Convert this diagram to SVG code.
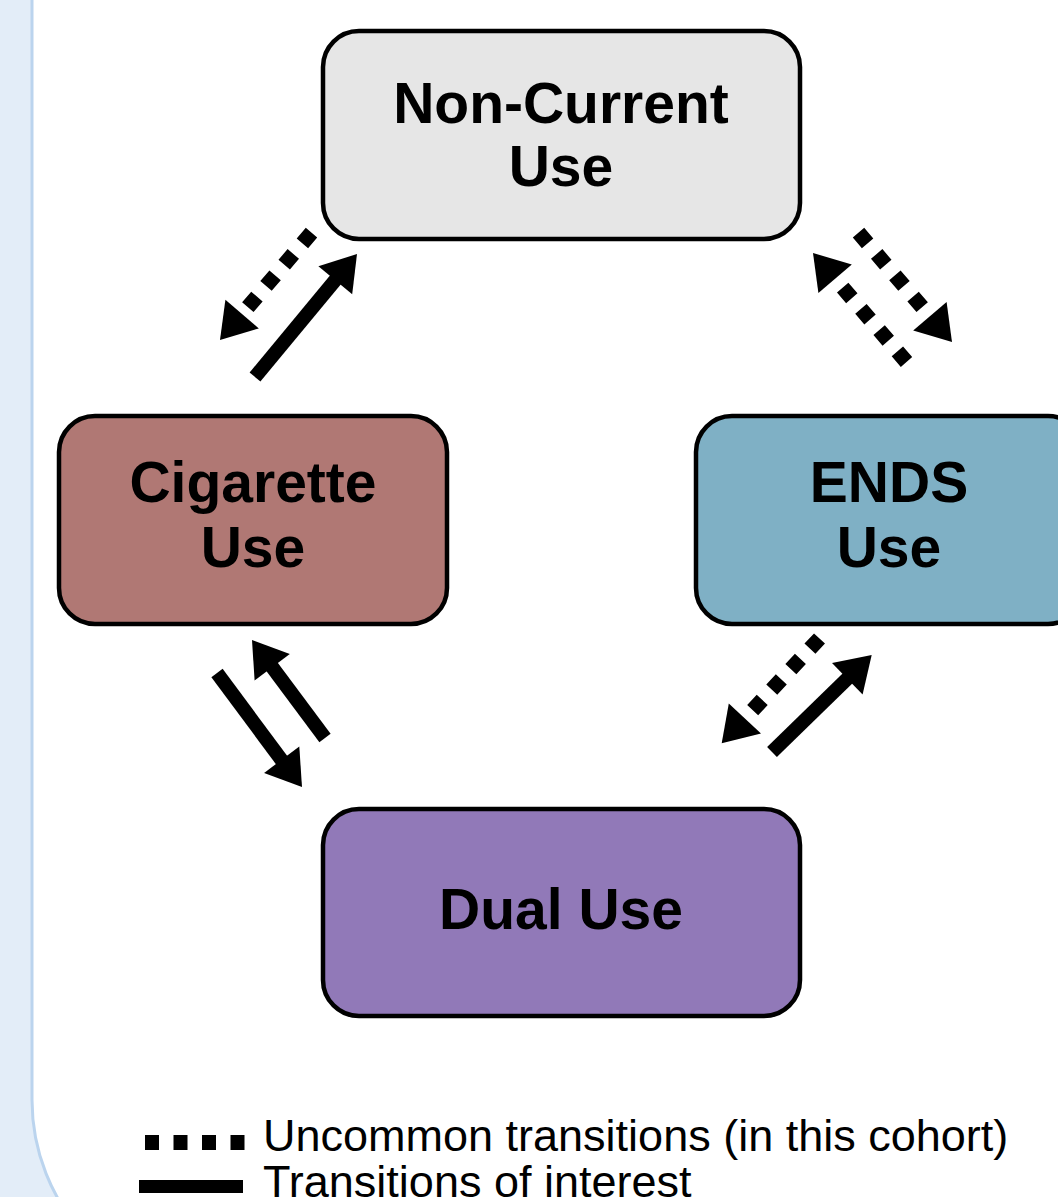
<svg xmlns="http://www.w3.org/2000/svg" width="1058" height="1197" viewBox="0 0 1058 1197">
<style>
.box{stroke:#000;stroke-width:4.5}
.lbl{font-family:"Liberation Sans",Arial,sans-serif;font-weight:bold;font-size:57px;fill:#000;text-anchor:middle}
.leg{font-family:"Liberation Sans",Arial,sans-serif;font-size:45px;fill:#000}
.solid{stroke:#000;stroke-width:14;fill:none}
.dot{stroke:#000;stroke-width:15;fill:none;stroke-dasharray:14 14}
.head{fill:#000}
</style>
<rect x="0" y="0" width="1058" height="1197" fill="#e3edf8"/>
<path d="M32,-10 V1100 A200,200 0 0 0 232,1300 H1100 V-10 Z" fill="#ffffff" stroke="#bbd4ee" stroke-width="3"/>

<g id="node-noncurrent">
<rect class="box" x="323" y="31" width="477" height="208" rx="36" fill="#e6e6e6"/>
<text class="lbl" x="561" y="123">Non-Current</text>
<text class="lbl" x="561" y="186">Use</text>
</g>
<g id="node-cigarette">
<rect class="box" x="59" y="416" width="388" height="208" rx="36" fill="#b07874"/>
<text class="lbl" x="253" y="502">Cigarette</text>
<text class="lbl" x="253" y="567">Use</text>
</g>
<g id="node-ends">
<rect class="box" x="696" y="416" width="388" height="208" rx="36" fill="#7fb0c5"/>
<text class="lbl" x="889" y="502">ENDS</text>
<text class="lbl" x="889" y="567">Use</text>
</g>
<g id="node-dual">
<rect class="box" x="323" y="809" width="477" height="207" rx="36" fill="#9179b8"/>
<text class="lbl" x="561" y="929">Dual Use</text>
</g>

<g id="connectors">
<line class="solid" x1="255" y1="377" x2="337" y2="278"/>
<polygon class="head" points="357,254 352.2,294.2 318.4,266.2"/>
<line class="dot" x1="311.5" y1="232.7" x2="242" y2="314"/>
<polygon class="head" points="220,340 258.8,328.4 225.4,299.8"/>
<line class="dot" x1="858.5" y1="232.7" x2="931" y2="317.5"/>
<polygon class="head" points="952,342 946.6,301.9 913.2,330.5"/>
<line class="dot" x1="906.5" y1="362" x2="834" y2="277.5"/>
<polygon class="head" points="813,253 851.8,264.5 818.4,293.1"/>
<line class="solid" x1="217" y1="673" x2="283" y2="762"/>
<polygon class="head" points="302,787 299.3,746.5 264.1,772.9"/>
<line class="solid" x1="325" y1="738" x2="271" y2="665.5"/>
<polygon class="head" points="252,640 289.8,654 254.6,680.4"/>
<line class="dot" x1="819.5" y1="638.5" x2="743.5" y2="720"/>
<polygon class="head" points="721.7,743.3 761,733.4 728.8,703.4"/>
<line class="solid" x1="772" y1="752" x2="849" y2="677"/>
<polygon class="head" points="871.7,655 862.6,694.5 832,662.9"/>
</g>

<g id="legend">
<line x1="145" y1="1142.5" x2="245" y2="1142.5" stroke="#000" stroke-width="15" stroke-dasharray="14 14.5"/>
<line x1="139" y1="1186.5" x2="243" y2="1186.5" stroke="#000" stroke-width="13"/>
<text class="leg" x="263" y="1151">Uncommon transitions (in this cohort)</text>
<text class="leg" x="263" y="1197">Transitions of interest</text>
</g>
</svg>
